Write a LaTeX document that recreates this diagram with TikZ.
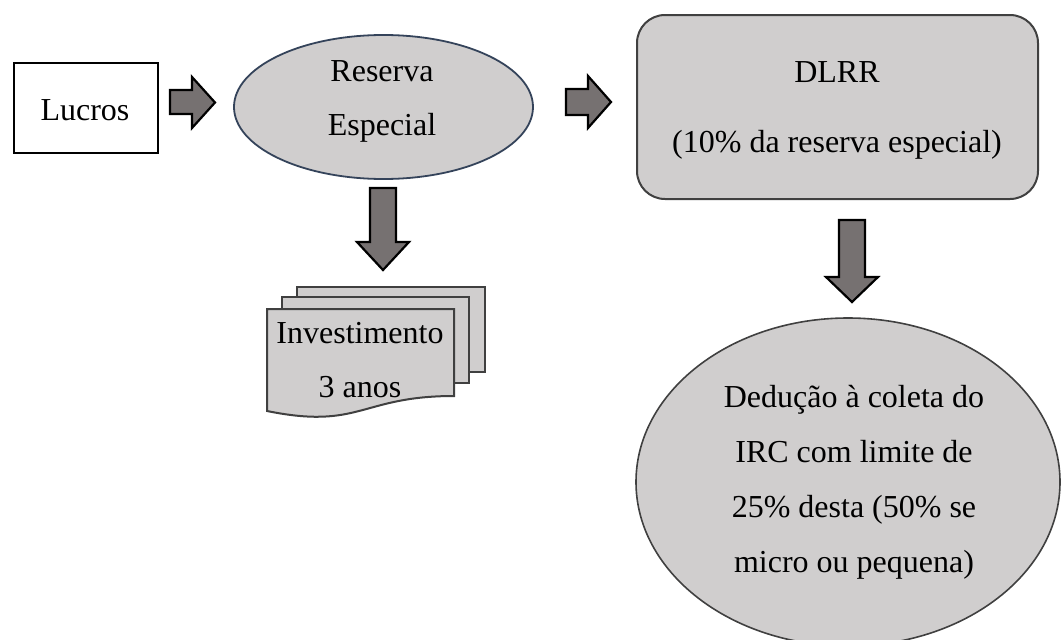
\documentclass[tikz,border=0pt]{standalone}
\usepackage{fontspec}
\setmainfont{Liberation Serif}
\usetikzlibrary{shapes.geometric}
\definecolor{boxgray}{HTML}{D0CECE}
\definecolor{arrowgray}{HTML}{767171}
\definecolor{edgegray}{HTML}{404040}
\definecolor{edgeblue}{HTML}{34435A}
\begin{document}
\begin{tikzpicture}[x=1pt,y=-1pt,
  txt/.style={font=\fontsize{32}{38}\selectfont, inner sep=0pt, anchor=base},
  blockarrow/.style={draw=black, fill=arrowgray, line width=2.2pt, line join=miter},
  docsheet/.style={draw=edgegray, fill=boxgray, line width=2pt, line join=miter},
  graybox/.style={fill=boxgray, inner sep=0pt}]
\useasboundingbox (0,0) rectangle (1061,640);

% shapes
\node[draw=black, fill=white, line width=1.3pt, minimum width=144pt, minimum height=90pt, inner sep=0pt] (lucros) at (86,108) {};
\node[graybox, ellipse, draw=edgeblue, line width=1.8pt, minimum width=299pt, minimum height=144pt] (reserva) at (383.5,107) {};
\node[graybox, rectangle, rounded corners=28pt, draw=edgegray, line width=2pt, minimum width=401pt, minimum height=184pt] (dlrr) at (837.5,107) {};
\node[graybox, ellipse, draw=edgegray, line width=1.6pt, minimum width=424pt, minimum height=328pt] (deducao) at (848,482) {};

% stacked documents
\draw[docsheet] (297,287) rectangle (485,372);
\draw[docsheet] (282,297) rectangle (469,383);
\draw[docsheet] (267,309) -- (454,309) -- (454,396) .. controls (360.5,396) and (360.5,430) .. (267,411) -- cycle;

% block arrows
\draw[blockarrow] (170,90) -- (192,90) -- (192,77) -- (215,102.5) -- (192,128) -- (192,114) -- (170,114) -- cycle;
\draw[blockarrow] (566,89) -- (588,89) -- (588,76) -- (611,102) -- (588,128) -- (588,115) -- (566,115) -- cycle;
\draw[blockarrow] (370,188) -- (396,188) -- (396,242) -- (409,242) -- (383,270) -- (357,242) -- (370,242) -- cycle;
\draw[blockarrow] (839,220) -- (865,220) -- (865,277) -- (878,277) -- (852,302) -- (826,277) -- (839,277) -- cycle;

% texts
\node[txt] (tlucros) at (85,120) {Lucros};
\node[txt] (tres1) at (382,81) {Reserva};
\node[txt] (tres2) at (382,135) {Especial};
\node[txt] (tdlrr1) at (837,82) {DLRR};
\node[txt] (tdlrr2) at (837,152) {(10\% da reserva especial)};
\node[txt] (tinv1) at (360,343) {Investimento};
\node[txt] (tinv2) at (360,397) {3 anos};
\node[txt] (tded1) at (854,407) {Dedução à coleta do};
\node[txt] (tded2) at (854,462) {IRC com limite de};
\node[txt] (tded3) at (854,517) {25\% desta (50\% se};
\node[txt] (tded4) at (854,572) {micro ou pequena)};
\end{tikzpicture}
\end{document}
